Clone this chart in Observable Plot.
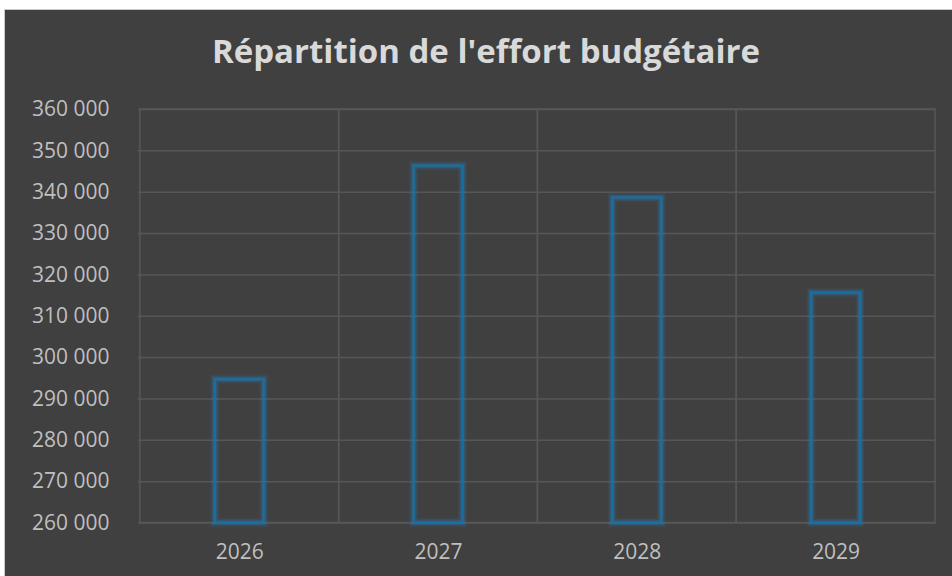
<!DOCTYPE html>
<html>
<head>
<meta charset="utf-8">
<script src="https://cdn.jsdelivr.net/npm/d3@7"></script>
<script src="https://cdn.jsdelivr.net/npm/@observablehq/plot@0.6"></script>
<style>
  html, body { margin: 0; padding: 0; background: #ffffff; width: 952px; height: 576px; overflow: hidden; }
  #panel { position: absolute; left: 4px; top: 9px; width: 947px; height: 566px; background: #404040; border-top: 1px solid #c8c8c8; border-left: 1px solid #c8c8c8; }
  #title { position: absolute; left: 0; top: 19px; width: 962px; text-align: center; font-family: "Open Sans", sans-serif; font-weight: 700; font-size: 33px; color: #d9d9d9; line-height: 44px; }
  #chart { position: absolute; left: 1px; top: 76px; }
</style>
</head>
<body>
<div id="panel">
  <div id="title">Répartition de l'effort budgétaire</div>
  <div id="chart"></div>
</div>
<script>
const years = ["2026", "2027", "2028", "2029"];
const values = [294650, 346300, 338600, 315600];
const yTicks = [260000, 270000, 280000, 290000, 300000, 310000, 320000, 330000, 340000, 350000, 360000];
const yMin = 260000;
const yMax = 360000;

const data = years.map((year, i) => ({year, value: values[i]}));
const fmt = d => d3.format(",")(d).replace(/,/g, " ");

const glowLayers = [
  {w: 10, o: 0.06},
  {w: 8, o: 0.08},
  {w: 6, o: 0.12},
  {w: 4, o: 0.18}
];

const chart = Plot.plot({
  width: 947,
  height: 491,
  marginTop: 23,
  marginBottom: 54,
  marginLeft: 132,
  marginRight: 16,
  style: {background: "transparent", color: "#bfbfbf", fontFamily: "'Open Sans', sans-serif", fontSize: "21px"},
  x: {domain: years, padding: 0, label: null},
  y: {domain: [yMin, yMax], label: null},
  marks: [
    Plot.gridY(yTicks, {stroke: "#575757", strokeOpacity: 1, strokeWidth: 1.5}),
    Plot.barY(years, {x: d => d, y1: yMin, y2: yMax, fill: "none", stroke: "#575757", strokeWidth: 1.5}),
    ...glowLayers.map(g => Plot.barY(data, {x: "year", y1: yMin, y2: "value", fill: "none", stroke: "#2a8fd0", strokeOpacity: g.o, strokeWidth: g.w, insetLeft: 75, insetRight: 75})),
    Plot.barY(data, {x: "year", y1: yMin, y2: "value", fill: "none", stroke: "#1a6fa2", strokeWidth: 2, insetLeft: 75, insetRight: 75}),
    Plot.axisX({tickSize: 0, tickPadding: 21, fontSize: 21}),
    Plot.axisY({tickSize: 0, tickPadding: 29, tickFormat: fmt, fontSize: 21, ticks: yTicks})
  ]
});

document.getElementById("chart").appendChild(chart);
</script>
</body>
</html>
